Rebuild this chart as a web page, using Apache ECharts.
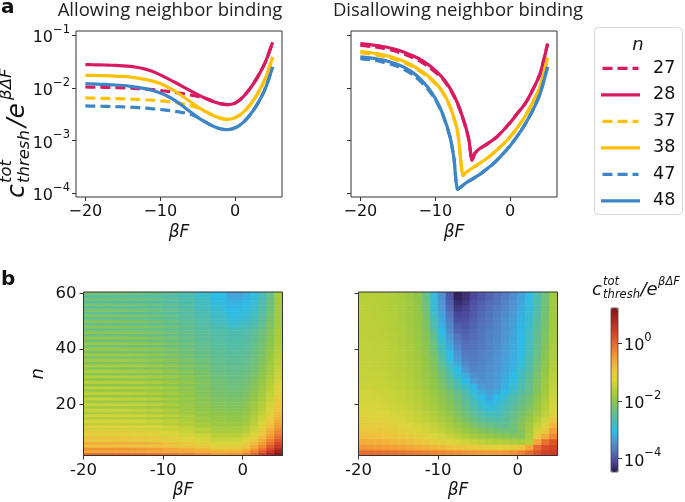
<!DOCTYPE html>
<html><head><meta charset="utf-8">
<script src="https://cdn.jsdelivr.net/npm/echarts@6/dist/echarts.min.js"></script>
<style>html,body{margin:0;padding:0;background:#fff}#c{width:685px;height:502px}</style>
</head><body><div id="c"></div>
<script>
// ---------- top row: c_thresh / e^(βΔF) (log10 values) ----------
const allowX = [-20,-19,-18,-17,-16,-15,-14,-13,-12,-11,-10,-9,-8,-7,-6,-5,-4,-3,-2,-1,0,1,2,3,4,5];
const allow27 = [-1.983,-1.985,-1.988,-1.991,-1.995,-2.000,-2.006,-2.013,-2.022,-2.034,-2.050,-2.068,-2.088,-2.110,-2.135,-2.163,-2.198,-2.250,-2.300,-2.318,-2.290,-2.180,-2.010,-1.790,-1.520,-1.130];
const allow28 = [-1.558,-1.560,-1.563,-1.567,-1.572,-1.580,-1.592,-1.612,-1.643,-1.690,-1.752,-1.823,-1.898,-1.975,-2.052,-2.128,-2.198,-2.258,-2.300,-2.318,-2.290,-2.180,-2.010,-1.790,-1.520,-1.130];
const allow37 = [-2.192,-2.194,-2.197,-2.200,-2.204,-2.208,-2.213,-2.219,-2.226,-2.235,-2.246,-2.260,-2.278,-2.302,-2.335,-2.380,-2.446,-2.520,-2.575,-2.600,-2.566,-2.475,-2.320,-2.110,-1.830,-1.412];
const allow38 = [-1.761,-1.763,-1.766,-1.770,-1.775,-1.783,-1.795,-1.813,-1.838,-1.872,-1.918,-1.985,-2.065,-2.160,-2.262,-2.360,-2.446,-2.520,-2.575,-2.600,-2.566,-2.475,-2.320,-2.110,-1.830,-1.412];
const allow47 = [-2.344,-2.347,-2.350,-2.353,-2.357,-2.362,-2.368,-2.376,-2.386,-2.398,-2.412,-2.428,-2.446,-2.470,-2.500,-2.560,-2.649,-2.725,-2.778,-2.795,-2.760,-2.665,-2.510,-2.300,-2.020,-1.602];
const allow48 = [-1.919,-1.925,-1.932,-1.938,-1.945,-1.955,-1.970,-1.990,-2.015,-2.050,-2.097,-2.160,-2.243,-2.345,-2.455,-2.560,-2.649,-2.725,-2.778,-2.795,-2.760,-2.665,-2.510,-2.300,-2.020,-1.602];

const disX28 = [-20,-19,-18,-17,-16,-15,-14,-13,-12,-11,-10,-9,-8,-7,-6,-5.5,-5.1,-4.7,-4,-3,-2,-1,0,1,2,3,4,5];
const dis27 = [-1.19,-1.205,-1.22,-1.245,-1.275,-1.315,-1.365,-1.425,-1.495,-1.585,-1.70,-1.83,-2.03,-2.31,-2.72,-3.0,-3.38,-3.24,-3.15,-3.06,-2.96,-2.82,-2.66,-2.48,-2.30,-2.04,-1.73,-1.16];
const dis28 = [-1.159,-1.172,-1.19,-1.213,-1.241,-1.280,-1.33,-1.39,-1.457,-1.550,-1.666,-1.812,-2.015,-2.30,-2.712,-2.997,-3.38,-3.24,-3.15,-3.06,-2.96,-2.82,-2.66,-2.48,-2.30,-2.04,-1.73,-1.16];
const disX38 = [-20,-19,-18,-17,-16,-15,-14,-13,-12,-11,-10,-9,-8,-7,-6.3,-6,-5,-4,-3,-2,-1,0,1,2,3,4,5];
const dis37 = [-1.33,-1.35,-1.37,-1.40,-1.43,-1.475,-1.53,-1.60,-1.69,-1.79,-1.92,-2.09,-2.37,-2.85,-3.67,-3.62,-3.52,-3.43,-3.33,-3.21,-3.08,-2.93,-2.75,-2.54,-2.28,-1.98,-1.43];
const dis38 = [-1.304,-1.322,-1.342,-1.370,-1.406,-1.452,-1.507,-1.578,-1.666,-1.770,-1.90,-2.078,-2.363,-2.85,-3.67,-3.62,-3.52,-3.43,-3.33,-3.21,-3.08,-2.93,-2.75,-2.54,-2.28,-1.98,-1.43];
const disX48 = [-20,-19,-18,-17,-16,-15,-14,-13,-12,-11,-10,-9,-8,-7.5,-7,-6,-5,-4,-3,-2,-1,0,1,2,3,4,5];
const dis47 = [-1.444,-1.46,-1.48,-1.51,-1.545,-1.595,-1.66,-1.75,-1.87,-2.02,-2.22,-2.51,-2.95,-3.35,-3.93,-3.82,-3.73,-3.64,-3.53,-3.41,-3.26,-3.10,-2.91,-2.69,-2.43,-2.11,-1.60];
const dis48 = [-1.412,-1.425,-1.444,-1.472,-1.507,-1.555,-1.62,-1.71,-1.83,-1.99,-2.20,-2.50,-2.95,-3.35,-3.93,-3.82,-3.73,-3.64,-3.53,-3.41,-3.26,-3.10,-2.91,-2.69,-2.43,-2.11,-1.60];

const legendNames = ['27','28','37','38','47','48'];
const legendDashed = [true,false,true,false,true,false];
const topYTicks = [1e-4,1e-3,1e-2,1e-1];
const topXTicks = [-20,-10,0];

// ---------- bottom row heatmaps (log10 of c_thresh / e^(βΔF)) ----------
const allowHeatXEdges = [-20,-18,-16,-14,-12,-10,-8,-6,-4,-2,0,1,2,3,4,5];
const allowHeatN = [2,3,4,5,6,7,8,9,10,11,12,13,14,15,16,17,18,19,20,21,22,23,24,25,26,27,28,29,30,31,32,33,34,35,36,37,38,39,40,41,42,43,44,45,46,47,48,49,50,51,52,53,54,55,56,57,58,59,60];
const allowHeat = [
[0.00,0.00,-0.01,-0.03,-0.07,-0.13,-0.21,-0.30,-0.45,-0.42,-0.25,0.02,0.38,0.75,1.15],
[-0.60,-0.60,-0.60,-0.61,-0.62,-0.64,-0.66,-0.69,-0.73,-0.70,-0.53,-0.24,0.12,0.52,0.93],
[-0.40,-0.40,-0.41,-0.44,-0.49,-0.58,-0.69,-0.82,-1.00,-0.98,-0.80,-0.50,-0.14,0.28,0.70],
[-0.90,-0.90,-0.91,-0.92,-0.94,-0.98,-1.02,-1.08,-1.15,-1.13,-0.96,-0.68,-0.33,0.08,0.50],
[-0.65,-0.65,-0.67,-0.69,-0.75,-0.85,-0.98,-1.13,-1.30,-1.28,-1.12,-0.85,-0.51,-0.12,0.30],
[-1.10,-1.10,-1.11,-1.12,-1.14,-1.18,-1.22,-1.28,-1.41,-1.40,-1.24,-0.99,-0.66,-0.27,0.14],
[-0.85,-0.85,-0.87,-0.90,-0.97,-1.08,-1.22,-1.39,-1.52,-1.51,-1.36,-1.12,-0.80,-0.42,-0.02],
[-1.25,-1.25,-1.26,-1.27,-1.29,-1.33,-1.37,-1.43,-1.61,-1.61,-1.46,-1.23,-0.91,-0.54,-0.15],
[-1.00,-1.00,-1.02,-1.05,-1.13,-1.25,-1.41,-1.60,-1.70,-1.70,-1.55,-1.33,-1.02,-0.66,-0.27],
[-1.40,-1.40,-1.41,-1.42,-1.44,-1.48,-1.52,-1.58,-1.76,-1.77,-1.63,-1.41,-1.11,-0.76,-0.37],
[-1.15,-1.15,-1.17,-1.20,-1.28,-1.40,-1.56,-1.75,-1.82,-1.83,-1.70,-1.48,-1.19,-0.85,-0.47],
[-1.55,-1.55,-1.56,-1.57,-1.59,-1.63,-1.67,-1.73,-1.87,-1.88,-1.76,-1.55,-1.27,-0.93,-0.56],
[-1.27,-1.27,-1.29,-1.32,-1.40,-1.52,-1.68,-1.87,-1.91,-1.93,-1.81,-1.61,-1.34,-1.01,-0.64],
[-1.65,-1.65,-1.66,-1.67,-1.69,-1.73,-1.77,-1.83,-1.95,-1.97,-1.86,-1.66,-1.40,-1.08,-0.71],
[-1.35,-1.35,-1.37,-1.40,-1.48,-1.60,-1.76,-1.95,-1.98,-2.01,-1.90,-1.71,-1.45,-1.14,-0.78],
[-1.73,-1.73,-1.74,-1.75,-1.77,-1.81,-1.85,-1.91,-2.02,-2.05,-1.94,-1.76,-1.50,-1.20,-0.84],
[-1.41,-1.41,-1.43,-1.46,-1.54,-1.66,-1.82,-2.01,-2.05,-2.08,-1.98,-1.80,-1.55,-1.25,-0.90],
[-1.80,-1.80,-1.81,-1.82,-1.84,-1.88,-1.92,-1.98,-2.08,-2.11,-2.02,-1.84,-1.60,-1.30,-0.95],
[-1.45,-1.45,-1.47,-1.50,-1.58,-1.70,-1.86,-2.05,-2.10,-2.14,-2.05,-1.88,-1.64,-1.35,-1.00],
[-1.85,-1.85,-1.86,-1.87,-1.89,-1.93,-1.97,-2.03,-2.13,-2.17,-2.08,-1.92,-1.68,-1.40,-1.05],
[-1.48,-1.48,-1.50,-1.53,-1.61,-1.73,-1.89,-2.08,-2.15,-2.20,-2.11,-1.95,-1.72,-1.44,-1.09],
[-1.89,-1.89,-1.90,-1.91,-1.93,-1.97,-2.01,-2.07,-2.18,-2.23,-2.14,-1.98,-1.76,-1.48,-1.13],
[-1.51,-1.51,-1.53,-1.56,-1.64,-1.76,-1.92,-2.11,-2.20,-2.25,-2.17,-2.01,-1.79,-1.52,-1.17],
[-1.93,-1.93,-1.94,-1.95,-1.97,-2.01,-2.05,-2.11,-2.23,-2.28,-2.20,-2.04,-1.83,-1.56,-1.21],
[-1.54,-1.54,-1.56,-1.59,-1.67,-1.79,-1.95,-2.14,-2.25,-2.30,-2.22,-2.07,-1.86,-1.59,-1.25],
[-1.97,-1.97,-1.98,-1.99,-2.01,-2.05,-2.09,-2.15,-2.26,-2.31,-2.24,-2.09,-1.89,-1.63,-1.29],
[-1.57,-1.57,-1.59,-1.62,-1.69,-1.80,-1.94,-2.09,-2.27,-2.32,-2.26,-2.11,-1.92,-1.66,-1.32],
[-2.01,-2.01,-2.02,-2.03,-2.05,-2.08,-2.12,-2.17,-2.30,-2.35,-2.29,-2.14,-1.95,-1.70,-1.36],
[-1.62,-1.62,-1.64,-1.67,-1.74,-1.85,-1.99,-2.14,-2.32,-2.37,-2.31,-2.17,-1.98,-1.74,-1.40],
[-2.06,-2.06,-2.07,-2.08,-2.10,-2.13,-2.17,-2.22,-2.34,-2.39,-2.34,-2.20,-2.01,-1.77,-1.43],
[-1.67,-1.67,-1.69,-1.72,-1.79,-1.90,-2.04,-2.19,-2.36,-2.41,-2.36,-2.22,-2.04,-1.80,-1.46],
[-2.11,-2.11,-2.12,-2.13,-2.15,-2.18,-2.22,-2.27,-2.38,-2.43,-2.38,-2.25,-2.07,-1.83,-1.49],
[-1.72,-1.72,-1.74,-1.77,-1.84,-1.95,-2.09,-2.24,-2.40,-2.45,-2.40,-2.27,-2.09,-1.85,-1.52],
[-2.16,-2.16,-2.17,-2.18,-2.20,-2.23,-2.27,-2.32,-2.42,-2.47,-2.42,-2.29,-2.11,-1.88,-1.55],
[-1.77,-1.77,-1.79,-1.82,-1.89,-2.00,-2.14,-2.29,-2.44,-2.49,-2.44,-2.31,-2.13,-1.90,-1.57],
[-2.21,-2.21,-2.22,-2.23,-2.25,-2.28,-2.32,-2.37,-2.46,-2.51,-2.46,-2.33,-2.16,-1.92,-1.60],
[-1.82,-1.82,-1.84,-1.87,-1.94,-2.05,-2.19,-2.34,-2.48,-2.53,-2.48,-2.35,-2.18,-1.94,-1.62],
[-2.25,-2.25,-2.26,-2.27,-2.29,-2.32,-2.36,-2.41,-2.50,-2.55,-2.50,-2.37,-2.20,-1.96,-1.64],
[-1.87,-1.87,-1.89,-1.92,-1.99,-2.10,-2.24,-2.39,-2.52,-2.57,-2.52,-2.39,-2.22,-1.98,-1.66],
[-2.29,-2.29,-2.30,-2.31,-2.33,-2.36,-2.40,-2.45,-2.54,-2.59,-2.54,-2.41,-2.24,-2.00,-1.68],
[-1.91,-1.91,-1.93,-1.96,-2.03,-2.14,-2.28,-2.43,-2.55,-2.60,-2.55,-2.42,-2.25,-2.02,-1.70],
[-2.33,-2.33,-2.34,-2.35,-2.37,-2.40,-2.44,-2.49,-2.57,-2.62,-2.57,-2.44,-2.27,-2.04,-1.72],
[-1.95,-1.95,-1.97,-2.00,-2.07,-2.18,-2.32,-2.47,-2.58,-2.63,-2.58,-2.46,-2.29,-2.06,-1.73],
[-2.37,-2.37,-2.38,-2.39,-2.41,-2.44,-2.48,-2.53,-2.60,-2.65,-2.60,-2.48,-2.31,-2.08,-1.75],
[-1.99,-1.99,-2.01,-2.04,-2.11,-2.22,-2.36,-2.51,-2.61,-2.67,-2.62,-2.50,-2.33,-2.09,-1.76],
[-2.41,-2.41,-2.42,-2.43,-2.45,-2.48,-2.52,-2.57,-2.63,-2.69,-2.64,-2.52,-2.35,-2.11,-1.78],
[-2.03,-2.03,-2.05,-2.08,-2.15,-2.26,-2.40,-2.56,-2.69,-2.80,-2.73,-2.61,-2.42,-2.14,-1.80],
[-2.44,-2.44,-2.45,-2.46,-2.48,-2.51,-2.55,-2.61,-2.73,-2.85,-2.78,-2.65,-2.45,-2.17,-1.82],
[-2.07,-2.07,-2.09,-2.12,-2.19,-2.30,-2.44,-2.60,-2.77,-2.90,-2.83,-2.69,-2.48,-2.20,-1.83],
[-2.47,-2.47,-2.48,-2.49,-2.51,-2.54,-2.59,-2.65,-2.80,-2.94,-2.86,-2.72,-2.51,-2.23,-1.84],
[-2.11,-2.11,-2.13,-2.16,-2.23,-2.34,-2.48,-2.65,-2.83,-2.98,-2.90,-2.76,-2.54,-2.26,-1.84],
[-2.50,-2.50,-2.51,-2.52,-2.54,-2.57,-2.63,-2.70,-2.86,-3.02,-2.93,-2.79,-2.57,-2.28,-1.84],
[-2.15,-2.15,-2.17,-2.20,-2.27,-2.38,-2.52,-2.70,-2.89,-3.06,-2.96,-2.82,-2.60,-2.30,-1.83],
[-2.53,-2.53,-2.54,-2.55,-2.57,-2.60,-2.66,-2.75,-2.92,-3.10,-3.00,-2.85,-2.62,-2.32,-1.83],
[-2.19,-2.19,-2.21,-2.24,-2.31,-2.42,-2.56,-2.75,-2.95,-3.14,-3.04,-2.88,-2.64,-2.33,-1.82],
[-2.56,-2.56,-2.57,-2.58,-2.60,-2.63,-2.69,-2.80,-2.98,-3.18,-3.08,-2.91,-2.66,-2.35,-1.82],
[-2.22,-2.22,-2.24,-2.27,-2.34,-2.45,-2.59,-2.80,-3.00,-3.22,-3.12,-2.94,-2.68,-2.36,-1.81],
[-2.59,-2.59,-2.60,-2.61,-2.63,-2.66,-2.72,-2.85,-3.03,-3.26,-3.16,-2.97,-2.70,-2.37,-1.80],
[-2.25,-2.25,-2.27,-2.30,-2.37,-2.48,-2.62,-2.85,-3.05,-3.30,-3.20,-3.00,-2.72,-2.38,-1.80]
];

const disHeatXEdges = [-20,-19,-18,-17,-16,-15,-14,-13,-12,-11,-10,-9,-8,-7,-6,-5,-4,-3,-2,-1,0,1,2,3,4,5];
const disHeatNEdges = [1.5,3.5,5.5,7.5,9.5,11.5,13.5,15.5,17.5,19.5,21.5,23.5,25.5,27.5,29.5,31.5,33.5,35.5,37.5,39.5,41.5,43.5,45.5,47.5,49.5,51.5,53.5,55.5,57.5,59.5,60.5];
const disHeat = [
[-0.05,-0.06,-0.07,-0.09,-0.11,-0.14,-0.17,-0.20,-0.24,-0.28,-0.32,-0.36,-0.40,-0.43,-0.46,-0.48,-0.49,-0.48,-0.45,-0.38,-0.25,-0.05,0.20,0.38,0.45],
[-0.45,-0.46,-0.48,-0.50,-0.53,-0.57,-0.61,-0.66,-0.71,-0.76,-0.82,-0.88,-0.93,-0.98,-1.03,-1.07,-1.10,-1.12,-1.12,-1.08,-0.95,-0.60,-0.05,0.25,0.35],
[-0.68,-0.69,-0.71,-0.74,-0.78,-0.83,-0.88,-0.94,-1.00,-1.07,-1.14,-1.22,-1.30,-1.38,-1.46,-1.53,-1.59,-1.64,-1.68,-1.72,-1.75,-1.60,-0.60,-0.10,0.15],
[-0.85,-0.86,-0.88,-0.91,-0.95,-1.00,-1.06,-1.12,-1.19,-1.27,-1.36,-1.46,-1.56,-1.67,-1.77,-1.86,-1.93,-1.99,-2.04,-2.08,-2.10,-1.70,-1.05,-0.65,-0.30],
[-0.98,-0.99,-1.01,-1.04,-1.08,-1.13,-1.19,-1.26,-1.33,-1.42,-1.52,-1.63,-1.75,-1.88,-2.00,-2.10,-2.18,-2.24,-2.28,-2.30,-2.10,-1.75,-1.38,-0.98,-0.55],
[-1.08,-1.09,-1.11,-1.14,-1.18,-1.23,-1.29,-1.36,-1.44,-1.53,-1.64,-1.76,-1.90,-2.04,-2.18,-2.30,-2.38,-2.44,-2.46,-2.30,-2.08,-1.82,-1.52,-1.18,-0.80],
[-1.16,-1.17,-1.19,-1.22,-1.26,-1.31,-1.37,-1.44,-1.52,-1.62,-1.74,-1.87,-2.02,-2.18,-2.34,-2.48,-2.57,-2.62,-2.52,-2.35,-2.15,-1.92,-1.66,-1.36,-1.00],
[-1.22,-1.23,-1.25,-1.28,-1.32,-1.37,-1.43,-1.50,-1.59,-1.70,-1.82,-1.96,-2.12,-2.30,-2.48,-2.64,-2.75,-2.75,-2.60,-2.42,-2.24,-2.03,-1.79,-1.52,-1.22],
[-1.27,-1.28,-1.30,-1.33,-1.37,-1.42,-1.48,-1.56,-1.65,-1.76,-1.89,-2.04,-2.21,-2.40,-2.60,-2.80,-2.95,-2.85,-2.68,-2.50,-2.32,-2.12,-1.88,-1.60,-1.30],
[-1.31,-1.32,-1.34,-1.37,-1.41,-1.46,-1.52,-1.60,-1.70,-1.82,-1.95,-2.10,-2.28,-2.48,-2.70,-2.92,-3.12,-2.95,-2.76,-2.58,-2.40,-2.20,-1.96,-1.67,-1.35],
[-1.35,-1.36,-1.38,-1.41,-1.45,-1.50,-1.56,-1.64,-1.74,-1.86,-2.00,-2.16,-2.35,-2.56,-2.80,-3.05,-3.25,-3.05,-2.85,-2.66,-2.46,-2.26,-2.02,-1.73,-1.40],
[-1.38,-1.39,-1.41,-1.44,-1.48,-1.53,-1.59,-1.67,-1.77,-1.90,-2.05,-2.22,-2.42,-2.65,-2.95,-3.20,-3.32,-3.22,-3.05,-2.80,-2.58,-2.36,-2.10,-1.80,-1.45],
[-1.42,-1.43,-1.45,-1.48,-1.52,-1.57,-1.64,-1.72,-1.83,-1.97,-2.15,-2.40,-2.65,-2.85,-3.10,-3.38,-3.42,-3.34,-3.15,-2.92,-2.68,-2.42,-2.12,-1.82,-1.50],
[-1.44,-1.45,-1.47,-1.50,-1.54,-1.59,-1.66,-1.75,-1.86,-2.01,-2.22,-2.48,-2.75,-3.05,-3.36,-3.45,-3.42,-3.35,-3.18,-2.98,-2.72,-2.46,-2.16,-1.86,-1.55],
[-1.46,-1.47,-1.49,-1.52,-1.56,-1.61,-1.68,-1.77,-1.89,-2.05,-2.30,-2.60,-2.95,-3.20,-3.46,-3.50,-3.44,-3.36,-3.22,-3.05,-2.78,-2.50,-2.20,-1.90,-1.58],
[-1.48,-1.49,-1.51,-1.54,-1.58,-1.63,-1.70,-1.79,-1.92,-2.09,-2.37,-2.72,-3.05,-3.42,-3.56,-3.54,-3.48,-3.40,-3.28,-3.12,-2.86,-2.57,-2.27,-1.96,-1.62],
[-1.49,-1.50,-1.52,-1.55,-1.59,-1.64,-1.71,-1.81,-1.94,-2.13,-2.44,-2.85,-3.22,-3.52,-3.62,-3.58,-3.50,-3.42,-3.30,-3.16,-2.95,-2.62,-2.30,-2.00,-1.66],
[-1.50,-1.51,-1.53,-1.56,-1.60,-1.66,-1.73,-1.83,-1.97,-2.18,-2.55,-3.00,-3.36,-3.62,-3.65,-3.60,-3.52,-3.44,-3.32,-3.18,-2.98,-2.66,-2.34,-2.04,-1.70],
[-1.51,-1.52,-1.54,-1.57,-1.61,-1.67,-1.75,-1.85,-2.00,-2.26,-2.65,-3.05,-3.45,-3.68,-3.68,-3.62,-3.54,-3.46,-3.34,-3.20,-3.02,-2.70,-2.37,-2.07,-1.72],
[-1.52,-1.53,-1.55,-1.58,-1.62,-1.68,-1.76,-1.87,-2.03,-2.32,-2.78,-3.20,-3.55,-3.74,-3.72,-3.65,-3.56,-3.48,-3.36,-3.22,-3.04,-2.73,-2.40,-2.10,-1.74],
[-1.53,-1.54,-1.56,-1.59,-1.63,-1.69,-1.77,-1.88,-2.05,-2.38,-2.88,-3.30,-3.65,-3.80,-3.75,-3.68,-3.58,-3.50,-3.38,-3.24,-3.05,-2.76,-2.43,-2.13,-1.76],
[-1.54,-1.55,-1.57,-1.60,-1.64,-1.70,-1.78,-1.90,-2.08,-2.45,-2.98,-3.40,-3.74,-3.85,-3.78,-3.70,-3.60,-3.52,-3.40,-3.26,-3.06,-2.78,-2.46,-2.16,-1.78],
[-1.55,-1.56,-1.58,-1.61,-1.65,-1.71,-1.79,-1.91,-2.12,-2.55,-3.05,-3.48,-3.84,-3.90,-3.82,-3.72,-3.62,-3.54,-3.42,-3.28,-3.08,-2.80,-2.49,-2.19,-1.80],
[-1.56,-1.57,-1.59,-1.62,-1.66,-1.72,-1.80,-1.92,-2.15,-2.65,-3.15,-3.56,-3.94,-3.96,-3.85,-3.75,-3.65,-3.56,-3.44,-3.30,-3.10,-2.83,-2.52,-2.21,-1.81],
[-1.56,-1.57,-1.60,-1.63,-1.67,-1.73,-1.81,-1.93,-2.18,-2.72,-3.22,-3.64,-4.04,-4.02,-3.89,-3.78,-3.68,-3.58,-3.46,-3.33,-3.14,-2.87,-2.55,-2.23,-1.82],
[-1.57,-1.58,-1.61,-1.64,-1.68,-1.74,-1.82,-1.94,-2.22,-2.80,-3.30,-3.72,-4.12,-4.08,-3.93,-3.81,-3.71,-3.61,-3.49,-3.36,-3.17,-2.90,-2.58,-2.25,-1.83],
[-1.58,-1.59,-1.62,-1.65,-1.69,-1.75,-1.83,-1.96,-2.27,-2.87,-3.37,-3.82,-4.22,-4.14,-3.98,-3.85,-3.75,-3.65,-3.53,-3.40,-3.20,-2.94,-2.60,-2.27,-1.84],
[-1.59,-1.60,-1.63,-1.66,-1.70,-1.76,-1.84,-1.98,-2.32,-2.92,-3.43,-3.90,-4.32,-4.22,-4.04,-3.90,-3.80,-3.70,-3.57,-3.44,-3.24,-2.97,-2.62,-2.28,-1.84],
[-1.60,-1.61,-1.64,-1.67,-1.71,-1.77,-1.85,-2.00,-2.36,-2.94,-3.47,-3.97,-4.40,-4.28,-4.10,-3.97,-3.87,-3.77,-3.64,-3.49,-3.28,-3.00,-2.64,-2.29,-1.85],
[-1.60,-1.62,-1.65,-1.68,-1.72,-1.78,-1.86,-2.02,-2.40,-2.97,-3.50,-4.02,-4.45,-4.30,-4.12,-3.98,-3.88,-3.78,-3.65,-3.50,-3.30,-3.02,-2.65,-2.30,-1.85]
];
const heatXTicks = [-20,-10,0];
const heatNTicks = [20,40,60];
const cbarRange = [-4.47, 1.22];
const cbarTicks = [-4,-2,0];

// ---------- build ----------
const RED='#D81B60', YEL='#FFC107', BLU='#3D85C6';
const TICK_FONT='DejaVu Sans';
const cmap=['#2b1a4c','#4a469c','#5470bc','#4f96d4','#2dbce8','#4cbcb3','#6cc080','#91c648','#b6cf39','#dad63b','#efc33d','#f3a337','#ed7d31','#de562c','#c83827','#a82320','#7f1616'];

function pts(xs, logs){ return xs.map((x,i)=>[x, Math.pow(10, logs[i])]); }
function line(name, xs, logs, color, dashed, g, smooth){
  return {name:name, type:'line', xAxisIndex:g, yAxisIndex:g, data:pts(xs,logs),
    symbol:'none', showSymbol:false, smooth:smooth,
    lineStyle:{color:color, width:3.2, type:dashed?[10,5]:'solid', cap:'butt', join:'round'},
    itemStyle:{color:color}, z:3};
}
function heatData(xEdges, nLo, nHi, rows){
  const out=[];
  rows.forEach((row,i)=>row.forEach((v,j)=>out.push([xEdges[j],xEdges[j+1],nLo[i],nHi[i],v])));
  return out;
}
function renderCell(params, api){
  const p0=api.coord([api.value(0), api.value(3)]);
  const p1=api.coord([api.value(1), api.value(2)]);
  const c=api.visual('color');
  return {type:'rect', shape:{x:p0[0], y:p0[1], width:p1[0]-p0[0], height:p1[1]-p0[1]},
    style:{fill:c, stroke:c, lineWidth:0.7}};
}
const supMinus = v => String(v).replace('-','\u2212');
function pow10Label(e){ return '{b|10}{s|'+supMinus(e)+'}'; }
const powRich = {b:{fontFamily:TICK_FONT,fontSize:16,color:'#111',lineHeight:22,verticalAlign:'bottom'},
                 s:{fontFamily:TICK_FONT,fontSize:11.5,color:'#111',lineHeight:22,verticalAlign:'top'}};
const noLine = {show:false, onZero:false};

function topX(g){
  return {type:'value', gridIndex:g, min:-21.25, max:6.25, splitLine:{show:false}, axisLine:noLine,
    axisTick:{show:true, length:4, lineStyle:{color:'#333'}, customValues:topXTicks},
    axisLabel:{customValues:topXTicks, margin:7, fontFamily:TICK_FONT, fontSize:16, color:'#111', formatter:v=>supMinus(v)},
    name:'βF', nameLocation:'middle', nameGap:27, nameTextStyle:{fontFamily:'DejaVu Sans', fontStyle:'italic', fontSize:17, color:'#111', verticalAlign:'top'}};
}
function topY(g, labels){
  return {type:'log', gridIndex:g, min:Math.pow(10,-4.076), max:Math.pow(10,-0.918), splitLine:{show:false}, axisLine:noLine, minorTick:{show:false},
    axisTick:{show:true, length:4, lineStyle:{color:'#333'}, customValues:topYTicks},
    axisLabel:{show:labels, customValues:topYTicks, margin:6, formatter:v=>pow10Label(Math.round(Math.log10(v))), rich:powRich}};
}
function heatX(g){
  return {type:'value', gridIndex:g, min:-20, max:5, splitLine:{show:false}, axisLine:noLine,
    axisTick:{show:true, length:4, lineStyle:{color:'#333'}, customValues:heatXTicks},
    axisLabel:{customValues:heatXTicks, margin:7, fontFamily:TICK_FONT, fontSize:16.5, color:'#111', formatter:v=>String(v)},
    name:'βF', nameLocation:'middle', nameGap:27, nameTextStyle:{fontFamily:'DejaVu Sans', fontStyle:'italic', fontSize:17, color:'#111', verticalAlign:'top'}};
}
function heatY(g, labels){
  return {type:'value', gridIndex:g, min:1.5, max:60.5, splitLine:{show:false}, axisLine:noLine,
    axisTick:{show:true, length:4, lineStyle:{color:'#333'}, customValues:heatNTicks},
    axisLabel:{show:labels, customValues:heatNTicks, margin:7, fontFamily:TICK_FONT, fontSize:16.5, color:'#111'},
    name: labels ? 'n' : '', nameLocation:'middle', nameGap:36, nameRotate:90,
    nameTextStyle:{fontFamily:'DejaVu Sans', fontStyle:'italic', fontSize:18, color:'#111'}};
}
const gridStyle={show:true, borderColor:'#333', borderWidth:1, backgroundColor:'transparent', z:10};

const series=[
  line('27',allowX,allow27,RED,true,0,0.3), line('28',allowX,allow28,RED,false,0,0.3),
  line('37',allowX,allow37,YEL,true,0,0.3), line('38',allowX,allow38,YEL,false,0,0.3),
  line('47',allowX,allow47,BLU,true,0,0.3), line('48',allowX,allow48,BLU,false,0,0.3),
  line('27',disX28,dis27,RED,true,1,0.2), line('28',disX28,dis28,RED,false,1,0.2),
  line('37',disX38,dis37,YEL,true,1,0.2), line('38',disX38,dis38,YEL,false,1,0.2),
  line('47',disX48,dis47,BLU,true,1,0.2), line('48',disX48,dis48,BLU,false,1,0.2),
  {type:'custom', xAxisIndex:2, yAxisIndex:2, clip:true, renderItem:renderCell, encode:{x:[0,1], y:[2,3]},
    data:heatData(allowHeatXEdges, allowHeatN.map(n=>n-0.5), allowHeatN.map(n=>n+0.5), allowHeat)},
  {type:'custom', xAxisIndex:3, yAxisIndex:3, clip:true, renderItem:renderCell, encode:{x:[0,1], y:[2,3]},
    data:heatData(disHeatXEdges, disHeatNEdges.slice(0,-1), disHeatNEdges.slice(1), disHeat)}
];

const SOLID_ICON='path://M0,0h39v3.3h-39z';
const DASH_ICON='path://M0,0h10v3.3h-10zM15,0h10v3.3h-10zM30,0h6v3.3h-6z';

function mathLabel(x, y, rot, big, small, gap){
  const it = sz => 'italic '+sz+'px "DejaVu Sans"';
  const wc = big*0.56, wth = small*3.25, we = big*0.98;
  return {type:'group', x:x, y:y, rotation:rot, children:[
    {type:'text', x:0, y:0, style:{text:'c', font:it(big), fill:'#111', verticalAlign:'middle'}},
    {type:'text', x:wc+1, y:-big*0.42, style:{text:'tot', font:it(small), fill:'#111', verticalAlign:'middle'}},
    {type:'text', x:wc+1, y:big*0.3, style:{text:'thresh', font:it(small), fill:'#111', verticalAlign:'middle'}},
    {type:'text', x:wc+wth+1+gap, y:0, style:{text:'/e', font:it(big), fill:'#111', verticalAlign:'middle'}},
    {type:'text', x:wc+wth+we+1+2*gap, y:-big*0.42, style:{text:'βΔF', font:it(small), fill:'#111', verticalAlign:'middle'}}
  ]};
}

const option={
  animation:false,
  backgroundColor:'#fff',
  grid:[
    Object.assign({left:76, top:31, width:206, height:166}, gridStyle),
    Object.assign({left:351, top:31, width:206, height:166}, gridStyle),
    Object.assign({left:83.5, top:292, width:199, height:163.5}, gridStyle),
    Object.assign({left:358.5, top:292, width:199, height:163.5}, gridStyle),
    {left:611, top:308, width:7, height:164, show:false}
  ],
  xAxis:[topX(0), topX(1), heatX(2), heatX(3), {type:'value', gridIndex:4, show:false}],
  yAxis:[topY(0,true), topY(1,false), heatY(2,true), heatY(3,false),
    {type:'value', gridIndex:4, position:'right', min:cbarRange[0], max:cbarRange[1], splitLine:{show:false}, axisLine:noLine,
     axisTick:{show:true, length:4, lineStyle:{color:'#333'}, customValues:cbarTicks},
     axisLabel:{customValues:cbarTicks, margin:6, formatter:v=>pow10Label(v), rich:powRich}}],
  visualMap:{type:'continuous', min:cbarRange[0], max:cbarRange[1], dimension:4, seriesIndex:[12,13],
    inRange:{color:cmap}, left:611, top:308, itemWidth:7, itemHeight:164, padding:0, calculable:false, hoverLink:false},
  legend:{data:legendNames.map((n,i)=>({name:n, icon: legendDashed[i]?DASH_ICON:SOLID_ICON})),
    orient:'vertical', left:601, top:58.3, padding:0, itemWidth:39, itemHeight:3.3, itemGap:6.5,
    textStyle:{fontFamily:TICK_FONT, fontSize:17.5, color:'#111', lineHeight:20, padding:[0,0,0,8]}},
  series:series,
  graphic:[
    {type:'text', left:1, top:-2, style:{text:'a', font:'bold 20px "DejaVu Sans"', fill:'#111'}},
    {type:'text', left:1, top:270, style:{text:'b', font:'bold 20px "DejaVu Sans"', fill:'#111'}},
    {type:'text', x:170, y:11, style:{text:'Allowing neighbor binding', font:'18.5px "Open Sans"', fill:'#222', align:'center', verticalAlign:'middle'}},
    {type:'text', x:458, y:11, style:{text:'Disallowing neighbor binding', font:'18.5px "Open Sans"', fill:'#222', align:'center', verticalAlign:'middle'}},
    {type:'rect', shape:{x:594.5, y:27.5, width:88, height:187, r:4}, style:{fill:'none', stroke:'#d6d6d6', lineWidth:1}},
    {type:'text', x:638, y:45, style:{text:'n', font:'italic 18px "DejaVu Sans"', fill:'#111', align:'center', verticalAlign:'middle'}},
    {type:'rect', shape:{x:611, y:308, width:7, height:164}, style:{fill:'none', stroke:'#444', lineWidth:0.8}, z:100},
    mathLabel(17, 198, Math.PI/2, 25, 16.5, 2.5),
    mathLabel(592, 290, 0, 18, 11.5, 0)
  ]
};
const chart=echarts.init(document.getElementById('c'), null, {renderer:'canvas', width:685, height:502});
chart.setOption(option);
</script></body></html>
